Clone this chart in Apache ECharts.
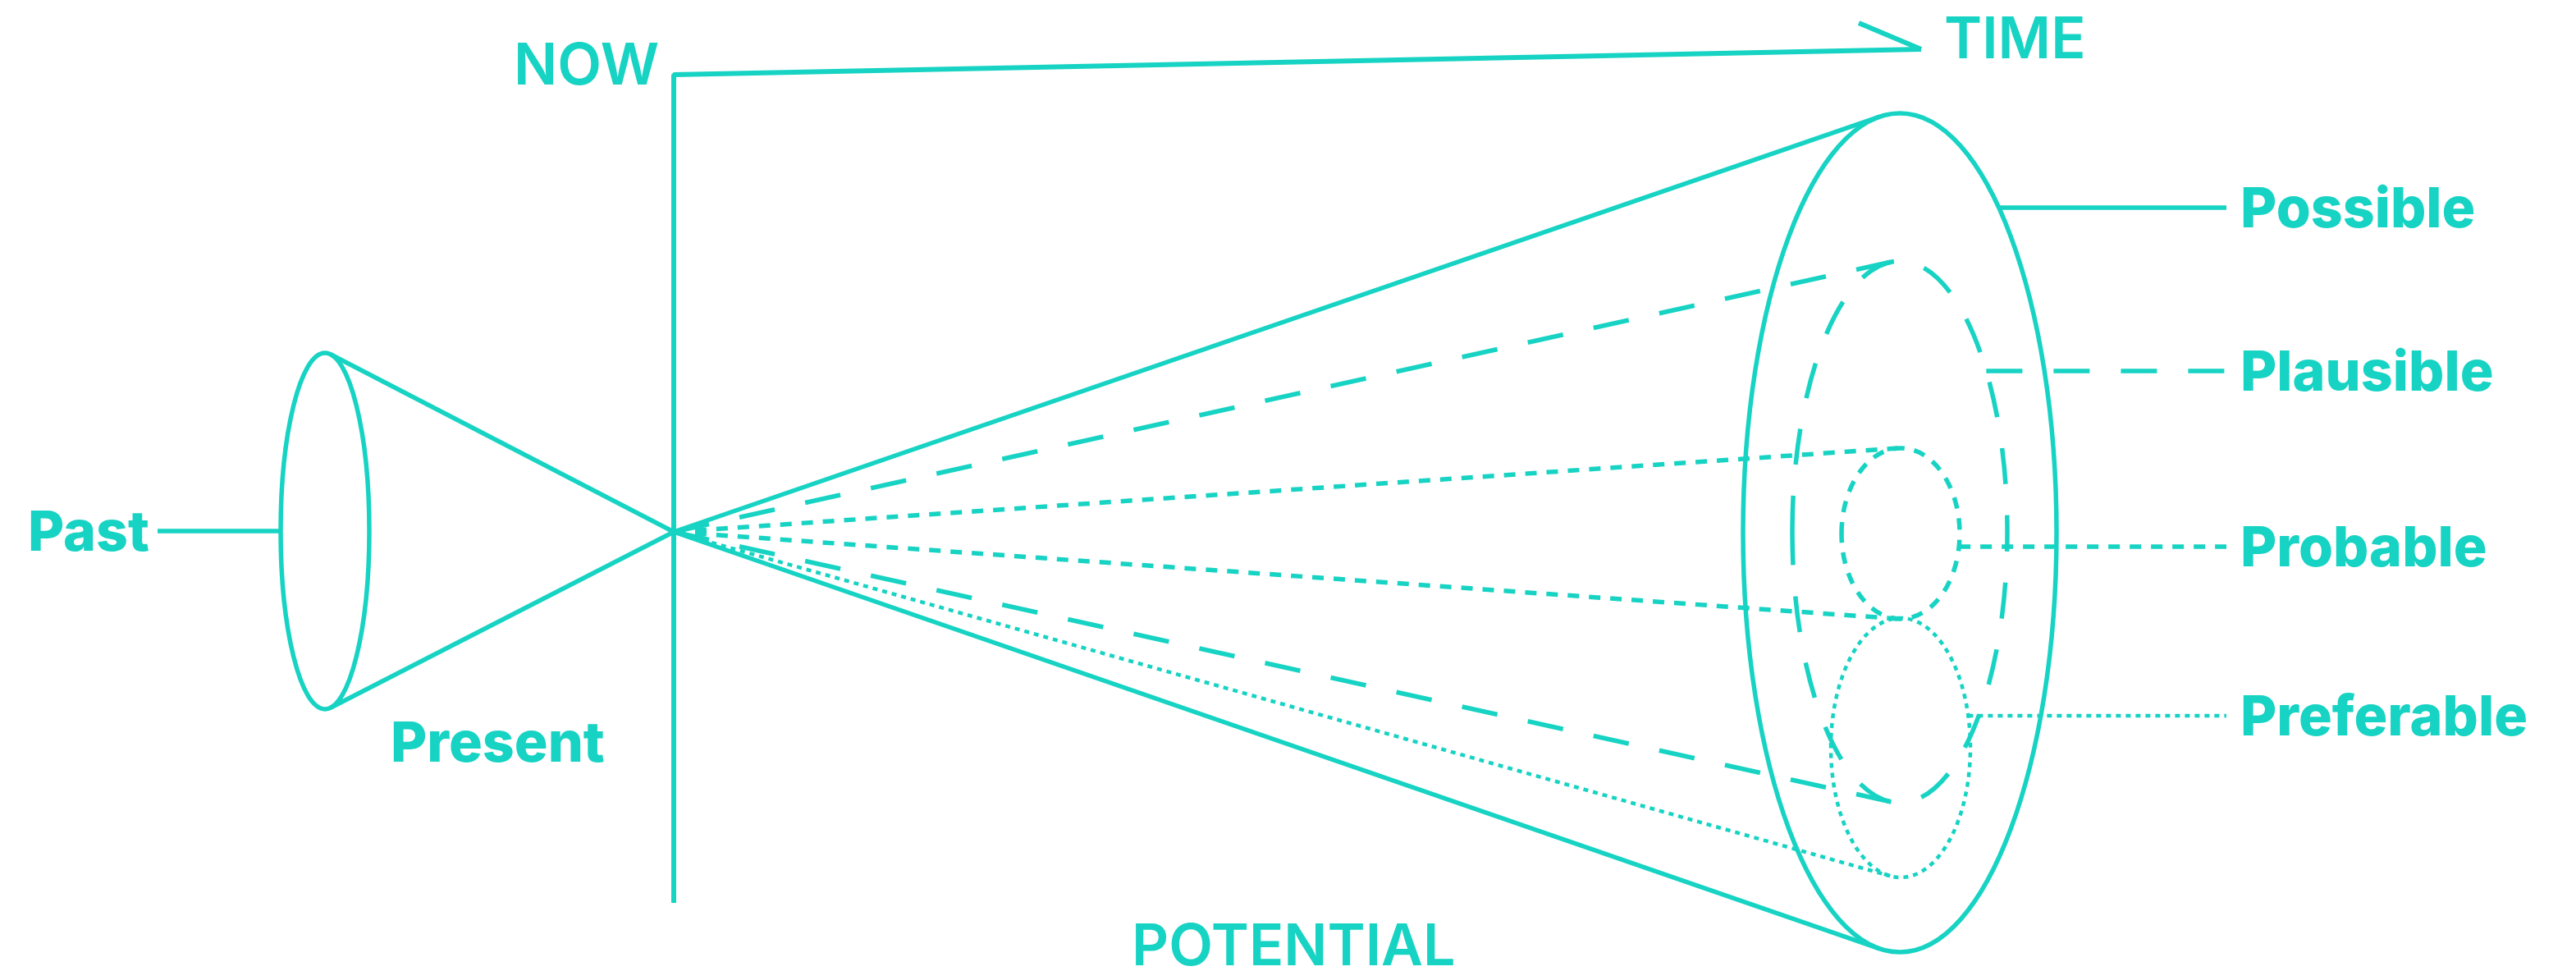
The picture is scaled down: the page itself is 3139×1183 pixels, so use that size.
<!DOCTYPE html>
<html>
<head>
<meta charset="utf-8">
<script src="https://cdn.jsdelivr.net/npm/echarts@6/dist/echarts.min.js"></script>
<style>
  html, body { margin: 0; padding: 0; background: #fff; }
  #chart { width: 3139px; height: 1183px; }
</style>
</head>
<body>
<div id="chart"></div>
<script>
const TEAL = '#17d3c3';

// futures cone, in picture units (x to the right, y downwards)
const vertex = [821, 648];
const coneNames = ['Past', 'Possible', 'Plausible', 'Probable', 'Preferable'];
const coneCx = [396, 2315, 2315, 2316, 2316];
const coneCy = [647, 649, 648, 650, 911];
const coneRx = [54, 191, 131, 72, 85];
const coneRy = [217, 511, 330, 104, 158];
const coneEdges = [['top', 'bottom'], ['top', 'bottom'], ['top', 'bottom'], ['top', 'bottom'], ['bottom']];

// leader lines + labels
const leaderY = [647, 253, 452, 666, 872];
const leaderEnd = [192, 2713, 2713, 2713, 2713];
const labelX = [34, 2730, 2730, 2730, 2730];

// axes
const nowLine = [[821, 1100], [821, 91], [2341, 60]];
const arrowBarb = [[2265, 28], [2341, 60]];
const axisTexts = ['NOW', 'TIME', 'POTENTIAL'];
const axisTextX = [626, 2369, 1379];
const axisTextY = [82, 50, 1155];
const presentText = ['Present', 476, 908];

// line styles per cone (solid, dashed, dotted, fine dotted)
const coneDash = ['solid', 'solid', [44, 38], [14, 12], [6, 6]];
const coneWidth = [5.5, 5.5, 5.5, 5.5, 4.5];

function tangents(i) {
  const a = coneRx[i], b = coneRy[i];
  const px = (vertex[0] - coneCx[i]) / a, py = (vertex[1] - coneCy[i]) / b;
  const base = Math.atan2(py, px), off = Math.acos(1 / Math.hypot(px, py));
  const pts = [base - off, base + off].map(t => [coneCx[i] + a * Math.cos(t), coneCy[i] + b * Math.sin(t)]);
  pts.sort((p, q) => p[1] - q[1]);
  return { top: pts[0], bottom: pts[1] };
}
function edgeX(i, y, side) {
  const k = (y - coneCy[i]) / coneRy[i];
  return coneCx[i] + side * coneRx[i] * Math.sqrt(Math.max(0, 1 - k * k));
}

const series = [];
function seg(data, dash, width) {
  series.push({
    type: 'line', data: data, showSymbol: false, silent: true,
    lineStyle: { color: TEAL, width: width, type: dash, cap: 'butt' }
  });
}

seg(nowLine, 'solid', 6);
seg(arrowBarb, 'solid', 6);

coneNames.forEach((name, i) => {
  const t = tangents(i);
  coneEdges[i].forEach(e => seg([vertex, t[e]], coneDash[i], coneWidth[i]));
  const side = i === 0 ? -1 : 1;
  seg([[edgeX(i, leaderY[i], side), leaderY[i]], [leaderEnd[i], leaderY[i]]], coneDash[i], coneWidth[i]);
});

series.push({
  type: 'custom', silent: true,
  data: coneNames.map((n, i) => [coneCx[i], coneCy[i], coneRx[i], coneRy[i], i]),
  renderItem: function (params, api) {
    const i = api.value(4);
    const c = api.coord([api.value(0), api.value(1)]);
    const s = api.size([api.value(2), api.value(3)]);
    const d = coneDash[i];
    return {
      type: 'ellipse',
      shape: { cx: c[0], cy: c[1], rx: s[0], ry: s[1] },
      style: { fill: null, stroke: TEAL, lineWidth: coneWidth[i], lineDash: d === 'solid' ? null : d }
    };
  }
});

const texts = [];
coneNames.forEach((n, i) => texts.push([labelX[i], leaderY[i] + 4, n, '800 68px Inter']));
texts.push([presentText[1], presentText[2], presentText[0], '800 68px Inter']);
axisTexts.forEach((n, i) => texts.push([axisTextX[i], axisTextY[i], n, '600 70px Inter']));

series.push({
  type: 'custom', silent: true,
  data: texts.map(t => [t[0], t[1]]),
  renderItem: function (params, api) {
    const t = texts[params.dataIndex];
    const c = api.coord([api.value(0), api.value(1)]);
    return {
      type: 'text',
      style: { text: t[2], x: c[0], y: c[1], font: t[3], fill: TEAL, align: 'left', verticalAlign: 'middle' }
    };
  }
});

const chart = echarts.init(document.getElementById('chart'));
chart.setOption({
  backgroundColor: '#fff',
  animation: false,
  grid: { left: 0, right: 0, top: 0, bottom: 0 },
  xAxis: { type: 'value', min: 0, max: 3139, show: false },
  yAxis: { type: 'value', min: 0, max: 1183, inverse: true, show: false },
  series: series
});
</script>
</body>
</html>
